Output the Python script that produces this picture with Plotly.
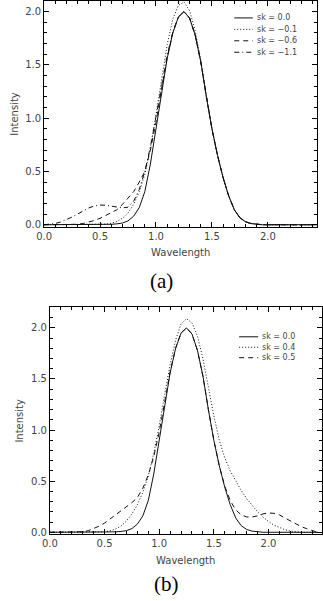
import plotly.graph_objects as go

W, H = 323, 601

WAVELENGTH = [
    0.00, 0.05, 0.10, 0.15, 0.20, 0.25, 0.30, 0.35, 0.40, 0.45,
    0.50, 0.55, 0.60, 0.65, 0.70, 0.75, 0.80, 0.85, 0.90, 0.95,
    1.00, 1.05, 1.10, 1.15, 1.20, 1.25, 1.30, 1.35, 1.40, 1.45,
    1.50, 1.55, 1.60, 1.65, 1.70, 1.75, 1.80, 1.85, 1.90, 1.95,
    2.00, 2.05, 2.10, 2.15, 2.20, 2.25, 2.30, 2.35, 2.40, 2.45,
]

# sk = 0.0, same reference profile in both panels
SK_00 = [
    0, 0, 0, 0, 0, 0, 0, 0, 0, 0,
    0, 0, 0.004, 0.008, 0.016, 0.036, 0.08, 0.16, 0.31, 0.57,
    0.90, 1.25, 1.56, 1.80, 1.95, 2.00, 1.94, 1.78, 1.53, 1.20,
    0.90, 0.65, 0.44, 0.27, 0.14, 0.065, 0.028, 0.011, 0.004, 0,
    0, 0, 0, 0, 0, 0, 0, 0, 0, 0,
]

# panel (a)
SK_M01 = [
    0, 0, 0, 0, 0, 0, 0, 0, 0, 0,
    0.002, 0.006, 0.014, 0.03, 0.06, 0.11, 0.19, 0.31, 0.47, 0.72,
    1.03, 1.37, 1.69, 1.93, 2.06, 2.09, 2.01, 1.82, 1.55, 1.21,
    0.90, 0.65, 0.44, 0.27, 0.14, 0.065, 0.028, 0.011, 0.004, 0,
    0, 0, 0, 0, 0, 0, 0, 0, 0, 0,
]
SK_M06 = [
    0, 0, 0, 0, 0, 0, 0.004, 0.012, 0.025, 0.04,
    0.06, 0.085, 0.11, 0.14, 0.19, 0.25, 0.31, 0.40, 0.50, 0.70,
    0.96, 1.28, 1.57, 1.80, 1.95, 2.00, 1.94, 1.78, 1.53, 1.20,
    0.90, 0.65, 0.44, 0.27, 0.14, 0.065, 0.028, 0.011, 0.004, 0,
    0, 0, 0, 0, 0, 0, 0, 0, 0, 0,
]
SK_M11 = [
    0, 0.004, 0.012, 0.026, 0.046, 0.072, 0.10, 0.13, 0.158, 0.176,
    0.185, 0.183, 0.175, 0.165, 0.158, 0.165, 0.22, 0.33, 0.50, 0.73,
    1.00, 1.30, 1.59, 1.81, 1.95, 2.00, 1.94, 1.78, 1.53, 1.20,
    0.90, 0.65, 0.44, 0.27, 0.14, 0.065, 0.028, 0.011, 0.004, 0,
    0, 0, 0, 0, 0, 0, 0, 0, 0, 0,
]

# panel (b)
SK_P04 = [
    0, 0, 0, 0, 0, 0, 0, 0, 0, 0.001,
    0.005, 0.015, 0.03, 0.06, 0.11, 0.18, 0.27, 0.39, 0.55, 0.77,
    1.04, 1.35, 1.64, 1.88, 2.04, 2.09, 2.05, 1.92, 1.70, 1.42,
    1.14, 0.90, 0.73, 0.60, 0.50, 0.41, 0.33, 0.26, 0.20, 0.15,
    0.105, 0.07, 0.045, 0.025, 0.012, 0.004, 0, 0, 0, 0,
]
SK_P05 = [
    0, 0, 0, 0, 0, 0, 0.005, 0.015, 0.035, 0.06,
    0.09, 0.13, 0.17, 0.21, 0.25, 0.29, 0.34, 0.43, 0.56, 0.74,
    0.98, 1.28, 1.57, 1.80, 1.95, 2.00, 1.94, 1.78, 1.53, 1.20,
    0.90, 0.65, 0.45, 0.31, 0.22, 0.17, 0.15, 0.15, 0.16, 0.18,
    0.19, 0.185, 0.17, 0.14, 0.11, 0.08, 0.055, 0.035, 0.015, 0.0,
]

LABELS_A = ["sk = 0.0", "sk = \u22120.1", "sk = \u22120.6", "sk = \u22121.1"]
LABELS_B = ["sk = 0.0", "sk = 0.4", "sk = 0.5"]

INK = "#111111"
TEXT = "#444444"
FONT = "DejaVu Sans"
DASHES = ["solid", "1px,2px", "5px,4px", "5px,3px,1px,3px"]


def px(x):
    return x / W


def py(y):
    return 1 - y / H


def axis_style(domain, rng):
    return dict(
        domain=domain,
        range=rng,
        showline=True,
        linecolor="#000000",
        linewidth=1,
        mirror="ticks",
        ticks="inside",
        ticklen=5,
        tickcolor="#000000",
        tick0=0,
        dtick=0.5,
        tickformat=".1f",
        minor=dict(dtick=0.1, ticks="inside", ticklen=3, tickcolor="#000000"),
        showgrid=False,
        zeroline=False,
        tickfont=dict(family=FONT, size=10, color=TEXT),
    )


fig = go.Figure()

panel_a = [SK_00, SK_M01, SK_M06, SK_M11]
for values, label, dash in zip(panel_a, LABELS_A, DASHES):
    fig.add_trace(go.Scatter(
        x=WAVELENGTH, y=values, mode="lines", name=label,
        line=dict(color=INK, width=1, dash=dash),
        xaxis="x", yaxis="y", showlegend=False,
    ))

panel_b = [SK_00, SK_P04, SK_P05]
for values, label, dash in zip(panel_b, LABELS_B, DASHES):
    fig.add_trace(go.Scatter(
        x=WAVELENGTH, y=values, mode="lines", name=label,
        line=dict(color=INK, width=1, dash=dash),
        xaxis="x2", yaxis="y2", showlegend=False,
    ))

fig.update_layout(
    width=W,
    height=H,
    margin=dict(l=0, r=0, t=0, b=0),
    paper_bgcolor="white",
    plot_bgcolor="white",
    showlegend=False,
    xaxis=dict(axis_style([px(37), px(317)], [0, 2.44]), anchor="y"),
    yaxis=dict(axis_style([py(228), py(1)], [-0.02, 2.1]), anchor="x"),
    xaxis2=dict(axis_style([px(43), px(322)], [0, 2.49]), anchor="y2"),
    yaxis2=dict(axis_style([py(537), py(309)], [-0.02, 2.2]), anchor="x2"),
)

# hand-made legends in the IDL style (short line sample + label)
shapes = []
annotations = []
legend_a_rows = [18, 29.5, 41, 52.5]
for row_y, label, dash in zip(legend_a_rows, LABELS_A, DASHES):
    shapes.append(dict(type="line", xref="paper", yref="paper",
                       x0=px(232), x1=px(251), y0=py(row_y), y1=py(row_y),
                       line=dict(color=INK, width=1, dash=dash)))
    annotations.append(dict(xref="paper", yref="paper", x=px(253), y=py(row_y),
                            text=label, showarrow=False, xanchor="left",
                            yanchor="middle",
                            font=dict(family=FONT, size=8, color=TEXT)))

legend_b_rows = [338.5, 349, 359.5]
for row_y, label, dash in zip(legend_b_rows, LABELS_B, DASHES):
    shapes.append(dict(type="line", xref="paper", yref="paper",
                       x0=px(237), x1=px(256.5), y0=py(row_y), y1=py(row_y),
                       line=dict(color=INK, width=1, dash=dash)))
    annotations.append(dict(xref="paper", yref="paper", x=px(258), y=py(row_y),
                            text=label, showarrow=False, xanchor="left",
                            yanchor="middle",
                            font=dict(family=FONT, size=8, color=TEXT)))

# axis titles and panel captions
for x, y, text in [(177, 254, "Wavelength"), (182.5, 563.5, "Wavelength")]:
    annotations.append(dict(xref="paper", yref="paper", x=px(x), y=py(y),
                            text=text, showarrow=False, xanchor="center",
                            yanchor="middle",
                            font=dict(family=FONT, size=10, color=TEXT)))
for x, y in [(7, 114.5), (12, 423)]:
    annotations.append(dict(xref="paper", yref="paper", x=px(x), y=py(y),
                            text="Intensity", showarrow=False, textangle=-90,
                            xanchor="center", yanchor="middle",
                            font=dict(family=FONT, size=10, color=TEXT)))
for x, y, text in [(157.5, 282.5, "(a)"), (162.5, 587, "(b)")]:
    annotations.append(dict(xref="paper", yref="paper", x=px(x), y=py(y),
                            text=text, showarrow=False, xanchor="center",
                            yanchor="middle",
                            font=dict(family="Liberation Serif", size=21,
                                      color="#000000")))

fig.update_layout(shapes=shapes, annotations=annotations)

# the page's default 8px body margin would push the figure out of the window
fig.write_html(
    "out.html",
    config={"displayModeBar": False},
    post_script="document.body.style.margin='0';"
                "document.body.style.overflow='hidden';",
)
